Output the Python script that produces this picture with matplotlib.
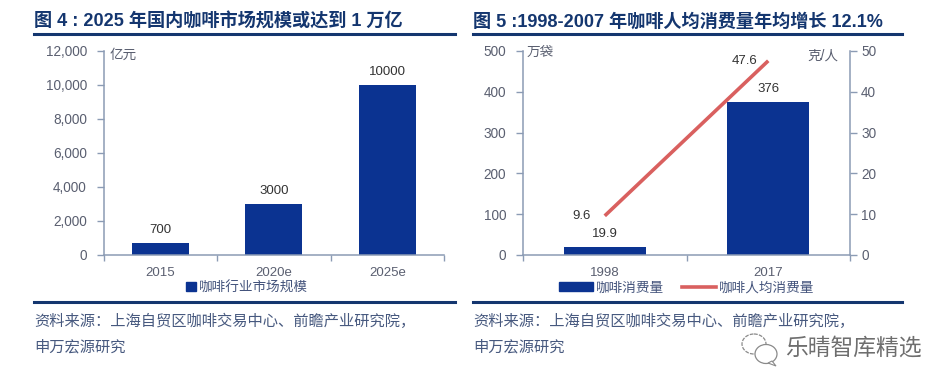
import matplotlib
matplotlib.use('Agg')
import matplotlib.pyplot as plt
from matplotlib.lines import Line2D
from matplotlib.patches import Ellipse, Patch, Polygon

plt.rcParams['font.family'] = ['Liberation Sans', 'Noto Sans CJK SC', 'DejaVu Sans']

W, H = 952, 390
BLUE = '#0b3391'
RED = '#d9605f'
NAVY = '#14366f'
AXIS = '#8b9bb4'
TICK = '#5a5f70'
SRC = '#47597f'

# left chart
market_cats = ['2015', '2020e', '2025e']
market_vals = [700, 3000, 10000]
market_ticks = [0, 2000, 4000, 6000, 8000, 10000, 12000]

# right chart
years = ['1998', '2017']
consumption = [19.9, 376]
per_capita = [9.6, 47.6]
cons_ticks = [0, 100, 200, 300, 400, 500]
per_ticks = [0, 10, 20, 30, 40, 50]

# full width colon and comma, as in the source line of the report
source_1 = '资料来源\uff1a上海自贸区咖啡交易中心、前瞻产业研究院\uff0c'
source_2 = '申万宏源研究'


def px_axes(fig, x0, y0, x1, y1):
    # pixel box, y measured from the top of the image
    return fig.add_axes([x0 / W, 1 - y1 / H, (x1 - x0) / W, (y1 - y0) / H])


def ftext(fig, x, y, s, **kw):
    return fig.text(x / W, 1 - y / H, s, va='center', **kw)


def frule(fig, x0, x1, y):
    fig.add_artist(Line2D([x0 / W, x1 / W], [1 - y / H, 1 - y / H], color=NAVY, lw=2.2))


def style_axis(ax, cats):
    n = len(cats)
    ax.set_xlim(-0.5, n - 0.5)
    ax.set_xticks([i - 0.5 for i in range(n + 1)])
    ax.set_xticklabels([])
    ax.set_xticks(range(n), labels=cats, minor=True)
    ax.tick_params(axis='x', which='major', length=4, color=AXIS, width=1)
    ax.tick_params(axis='x', which='minor', length=0, pad=9, labelsize=9.5, labelcolor=TICK)
    ax.tick_params(axis='y', length=5, color=AXIS, width=1, pad=7, labelsize=9.8, labelcolor=TICK)
    for side in ['top', 'right']:
        ax.spines[side].set_visible(False)
    for side in ['left', 'bottom']:
        ax.spines[side].set_color(AXIS)
        ax.spines[side].set_linewidth(1.1)


fig = plt.figure(figsize=(W / 100, H / 100), dpi=100, facecolor='white')

# figure 4
ax1 = px_axes(fig, 103.5, 51, 444, 255)
bars = ax1.bar(range(3), market_vals, width=0.5, color=BLUE)
ax1.set_ylim(0, 12000)
ax1.set_yticks(market_ticks, labels=[f'{v:,}' for v in market_ticks])
style_axis(ax1, market_cats)
ax1.bar_label(bars, labels=[str(v) for v in market_vals], padding=5, fontsize=9.5, color='#333333')
ftext(fig, 110, 55, '亿元', fontsize=9.8, color=TICK)
ax1.legend(handles=[Patch(color=BLUE, label='咖啡行业市场规模')], loc='center', frameon=False,
           bbox_to_anchor=(0.42, -0.158), fontsize=9.8, labelcolor='#44547c',
           handlelength=0.75, handleheight=0.75, handletextpad=0.2, borderpad=0)

# figure 5
ax2 = px_axes(fig, 523, 51, 850, 255)
bars2 = ax2.bar(range(2), consumption, width=0.5, color=BLUE)
ax2.set_ylim(0, 500)
ax2.set_yticks(cons_ticks)
style_axis(ax2, years)
ax2.bar_label(bars2, labels=[str(v) for v in consumption], padding=5, fontsize=9.5, color='#333333')

ax3 = ax2.twinx()
ax3.plot(range(2), per_capita, color=RED, lw=2.6, solid_capstyle='butt')
ax3.set_ylim(0, 50)
ax3.set_yticks(per_ticks)
ax3.tick_params(axis='y', length=5, color=AXIS, width=1, pad=3, labelsize=9.8, labelcolor=TICK)
for side in ['top', 'left', 'bottom']:
    ax3.spines[side].set_visible(False)
ax3.spines['right'].set_color(AXIS)
ax3.spines['right'].set_linewidth(1.1)
for i, v in enumerate(per_capita):
    ax3.annotate(str(v), (i, v), xytext=(-17, 0), textcoords='offset points',
                 ha='center', va='center', fontsize=9.5, color='#333333')
ftext(fig, 527, 52, '万袋', fontsize=9.8, color=TICK)
ftext(fig, 807, 56, '克/人', fontsize=9.8, color=TICK)
ax2.legend(handles=[Patch(color=BLUE, label='咖啡消费量'),
                    Line2D([0], [0], color=RED, lw=2.6, label='咖啡人均消费量')],
           loc='center', ncol=2, frameon=False, bbox_to_anchor=(0.5, -0.158), fontsize=9.8,
           labelcolor='#44547c', handlelength=2.5, handleheight=0.55, handletextpad=0.2,
           columnspacing=1.3, borderpad=0)

# titles, rules and sources
ftext(fig, 34, 22, '图 4 : 2025 年国内咖啡市场规模或达到 1 万亿', fontsize=13.1, fontweight='bold', color=NAVY)
ftext(fig, 473, 22, '图 5 :1998-2007 年咖啡人均消费量年均增长 12.1%', fontsize=13.1, fontweight='bold', color=NAVY)
for x0, x1 in [(34, 455), (473, 902)]:
    frule(fig, x0, x1, 33.5)
    frule(fig, x0, x1, 302)
    ftext(fig, x0, 321, source_1, fontsize=11, color=SRC)
    ftext(fig, x0, 347, source_2, fontsize=11, color=SRC)

# watermark
ftext(fig, 785, 348, '乐晴智库精选', fontsize=16.4, color='#6e6e6e')
wm = fig.add_axes([0, 0, 1, 1], zorder=-1)
wm.set_xlim(0, W)
wm.set_ylim(H, 0)
wm.axis('off')
wm.add_patch(Ellipse((754, 344), 24, 20, fill=False, ec='#8a8a8a', lw=0.9, ls=(0, (3, 1))))
wm.add_patch(Ellipse((766, 354), 22, 19, fill=True, fc='white', ec='#8a8a8a', lw=0.9))
wm.add_patch(Polygon([(772, 361), (776, 366), (768, 363)], closed=True, fc='white', ec='#8a8a8a', lw=0.8))

fig.savefig('out.png', dpi=100, facecolor='white')
